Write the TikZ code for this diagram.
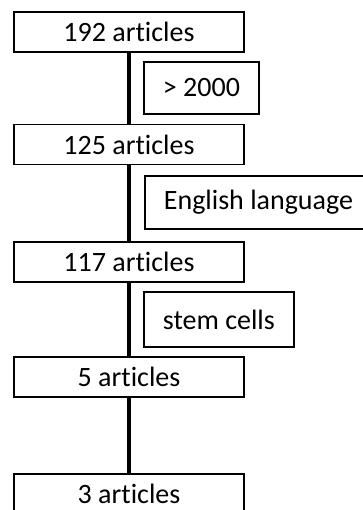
\documentclass[tikz,border=0pt]{standalone}
\usepackage{fontspec}
\setmainfont{Carlito}[Ligatures=NoCommon]
\usepackage{tikz}

\tikzset{
  artbox/.style={draw=black, line width=1.8pt, minimum width=230pt, minimum height=40pt, inner sep=0pt,
    font=\fontsize{28}{30}\selectfont},
  filterbox/.style={draw=black, line width=1.8pt, anchor=west, inner xsep=19pt, inner ysep=0pt,
    font=\fontsize{28}{30}\selectfont},
  flowline/.style={line width=3.6pt}
}

\begin{document}
\begin{tikzpicture}[x=1pt,y=1pt]
        \useasboundingbox (0,0) rectangle (363,-510);
        \clip (0,0) rectangle (363,-510);
        % main counts
        \node [artbox] (n192) at (129,-32) {192 articles};
        \node [artbox] (n125) at (129,-144.5) {125 articles};
        \node [artbox] (n117) at (129,-262) {117 articles};
        \node [artbox] (n5) at (129,-377) {5 articles};
        \node [artbox] (n3) at (129,-494) {3 articles};
        % filters
        \node [filterbox, minimum height=52pt] (fyear) at (143,-88) {> 2000};
        \node [filterbox, minimum height=53pt] (flang) at (144,-202.5) {English language};
        \node [filterbox, minimum height=55pt] (fstem) at (143,-319.5) {stem cells};
        % connectors
        \draw [flowline] (n192.south) -- (n125.north);
        \draw [flowline] (n125.south) -- (n117.north);
        \draw [flowline] (n117.south) -- (n5.north);
        \draw [flowline] (n5.south) -- (n3.north);
\end{tikzpicture}
\end{document}
